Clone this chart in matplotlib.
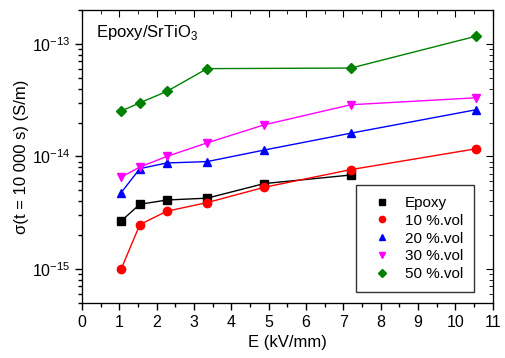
import matplotlib
matplotlib.use('Agg')
import matplotlib.pyplot as plt
from matplotlib.ticker import NullFormatter, FixedLocator

plt.rcParams['font.family'] = ['Liberation Sans', 'DejaVu Sans']
plt.rcParams['mathtext.fontset'] = 'custom'
plt.rcParams['mathtext.rm'] = 'Liberation Sans'

# ── data ─────────────────────────────────────────────────────────────────────
E = [1.05, 1.55, 2.27, 3.35, 4.88, 7.2, 10.55]
sigma_epoxy = [2.67e-15, 3.76e-15, 4.10e-15, 4.26e-15, 5.74e-15, 6.84e-15]
sigma_10 = [1.00e-15, 2.48e-15, 3.26e-15, 3.89e-15, 5.32e-15, 7.64e-15, 1.17e-14]
sigma_20 = [4.77e-15, 7.80e-15, 8.75e-15, 9.00e-15, 1.14e-14, 1.61e-14, 2.60e-14]
sigma_30 = [6.56e-15, 8.05e-15, 1.00e-14, 1.32e-14, 1.91e-14, 2.88e-14, 3.32e-14]
E_50 = [1.05, 1.55, 2.27, 3.35, 7.2, 10.55]
sigma_50 = [2.53e-14, 3.00e-14, 3.78e-14, 6.03e-14, 6.10e-14, 1.17e-13]

series = [
    (E[:6], sigma_epoxy, 'Epoxy', 'black', 's', 5.5),
    (E, sigma_10, '10 %.vol', 'red', 'o', 6.0),
    (E, sigma_20, '20 %.vol', 'blue', '^', 6.0),
    (E, sigma_30, '30 %.vol', 'magenta', 'v', 6.0),
    (E_50, sigma_50, '50 %.vol', '#008000', 'D', 5.0),
]

y_major = [1e-15, 1e-14, 1e-13]
y_minor = [k * 10.0 ** d for d in (-16, -15, -14, -13) for k in range(2, 10)]
y_minor = [v for v in y_minor if 5e-16 <= v <= 2e-13]

fig = plt.figure(figsize=(5.06, 3.58), dpi=100)
ax = fig.add_axes([0.162, 0.154, 0.812, 0.818])

for x, y, lab, c, m, ms in series:
    ax.plot(x, y, color=c, lw=1.0)
    ax.plot(x, y, ls='none', marker=m, color=c, ms=ms, label=lab)

ax.set_yscale('log')
ax.set_xlim(0, 11)
ax.set_ylim(5e-16, 2e-13)
ax.set_xticks(range(0, 12))
ax.set_xticks([i + 0.5 for i in range(11)], minor=True)
ax.yaxis.set_major_locator(FixedLocator(y_major))
ax.yaxis.set_minor_locator(FixedLocator(y_minor))
ax.yaxis.set_minor_formatter(NullFormatter())
ax.tick_params(which='both', direction='out', labelsize=11.5, width=1)
ax.tick_params(which='major', length=5)
ax.tick_params(which='minor', length=3)
ax.set_xlabel('E (kV/mm)', fontsize=12)
ax.set_ylabel('σ(t = 10 000 s) (S/m)', fontsize=12, labelpad=2)

# top / right ticks pointing inward
axr = ax.twinx()
axr.set_yscale('log')
axr.set_ylim(ax.get_ylim())
axr.yaxis.set_major_locator(FixedLocator(y_major))
axr.yaxis.set_minor_locator(FixedLocator(y_minor))
axr.yaxis.set_major_formatter(NullFormatter())
axr.yaxis.set_minor_formatter(NullFormatter())
axr.tick_params(which='both', direction='in', labelright=False)
axr.tick_params(which='major', length=5)
axr.tick_params(which='minor', length=3)
axt = ax.twiny()
axt.set_xlim(ax.get_xlim())
axt.set_xticks(range(0, 12))
axt.set_xticks([i + 0.5 for i in range(11)], minor=True)
axt.tick_params(which='both', direction='in', labeltop=False)
axt.tick_params(which='major', length=5)
axt.tick_params(which='minor', length=3)

ax.text(0.034, 0.955, 'Epoxy/SrTiO$_3$', transform=ax.transAxes,
        fontsize=12, va='top', ha='left')

leg = ax.legend(loc='lower right', bbox_to_anchor=(0.954, 0.0375),
                borderaxespad=0, fontsize=11, markerscale=0.75,
                frameon=True, fancybox=False, edgecolor='black',
                handletextpad=0.5, borderpad=0.7, labelspacing=0.25,
                handlelength=2.0)
leg.get_frame().set_linewidth(1.0)

fig.savefig('out.png', dpi=100)
